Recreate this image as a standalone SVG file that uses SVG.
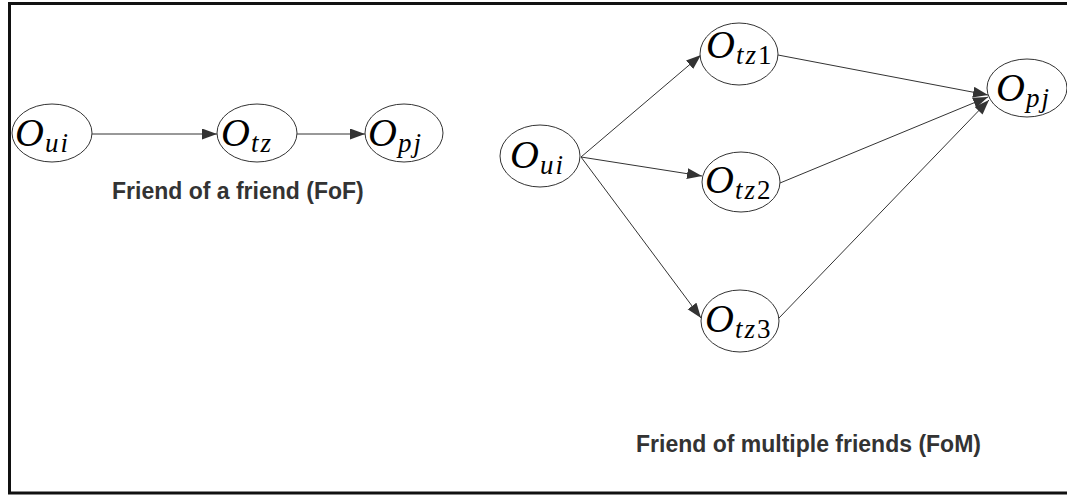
<svg xmlns="http://www.w3.org/2000/svg" width="1067" height="495" viewBox="0 0 1067 495">
<style>
.node ellipse{fill:#fff;stroke:#333;stroke-width:1}
.lbl{font-family:"Liberation Serif","Times New Roman",serif;font-style:italic;font-size:40px;fill:#000}
.sub{font-size:27px;letter-spacing:2px}
.up{font-style:normal}
.cap{font-family:"Liberation Sans",Arial,sans-serif;font-weight:bold;font-size:23px;fill:#333}
.edge{stroke:#333;stroke-width:1;fill:none;marker-end:url(#arr)}
</style>
<defs>
<marker id="arr" markerUnits="userSpaceOnUse" markerWidth="16" markerHeight="12" refX="15" refY="5.5" orient="auto">
<path d="M0,0 L15,5.5 L0,11 z" fill="#333"/>
</marker>
</defs>
<rect x="9.5" y="3.5" width="1070" height="489.5" fill="#fff" stroke="#111" stroke-width="3"/>
<g id="connectors">
<line class="edge" x1="92" y1="134" x2="217" y2="134"/>
<line class="edge" x1="297" y1="134" x2="365" y2="134"/>
<line class="edge" x1="581" y1="157" x2="701" y2="55"/>
<line class="edge" x1="581" y1="157" x2="702" y2="176"/>
<line class="edge" x1="581" y1="157" x2="701" y2="318"/>
<line class="edge" x1="778" y1="55" x2="988" y2="95"/>
<line class="edge" x1="780" y1="183" x2="988" y2="97"/>
<line class="edge" x1="779" y1="318" x2="989" y2="100"/>
</g>
<g id="fof_ui" class="node"><ellipse cx="52" cy="133" rx="40" ry="29"/>
<text class="lbl" x="15" y="146">O<tspan class="sub" dx="1" dy="6">ui</tspan></text></g>
<g id="fof_tz" class="node"><ellipse cx="257" cy="133" rx="40" ry="29"/>
<text class="lbl" x="221" y="146">O<tspan class="sub" dx="1" dy="6">tz</tspan></text></g>
<g id="fof_pj" class="node"><ellipse cx="404" cy="133" rx="39" ry="29"/>
<text class="lbl" x="368" y="146">O<tspan class="sub" dx="1" dy="6">pj</tspan></text></g>
<text class="cap" x="112" y="199">Friend of a friend (FoF)</text>
<g id="fom_ui" class="node"><ellipse cx="540" cy="156" rx="40" ry="31"/>
<text class="lbl" x="510" y="168">O<tspan class="sub" dx="1" dy="6">ui</tspan></text></g>
<g id="fom_tz1" class="node"><ellipse cx="739" cy="54" rx="39" ry="31"/>
<text class="lbl" x="706" y="58">O<tspan class="sub" dx="1" dy="6">tz</tspan><tspan class="sub up">1</tspan></text></g>
<g id="fom_tz2" class="node"><ellipse cx="741" cy="182" rx="39" ry="30"/>
<text class="lbl" x="705" y="193">O<tspan class="sub" dx="1" dy="6">tz</tspan><tspan class="sub up">2</tspan></text></g>
<g id="fom_tz3" class="node"><ellipse cx="740" cy="321" rx="39" ry="31"/>
<text class="lbl" x="705" y="332">O<tspan class="sub" dx="1" dy="6">tz</tspan><tspan class="sub up">3</tspan></text></g>
<g id="fom_pj" class="node"><ellipse cx="1027" cy="88" rx="40" ry="29"/>
<text class="lbl" x="996" y="101">O<tspan class="sub" dx="1" dy="6">pj</tspan></text></g>
<text class="cap" x="636" y="452">Friend of multiple friends (FoM)</text>
</svg>
